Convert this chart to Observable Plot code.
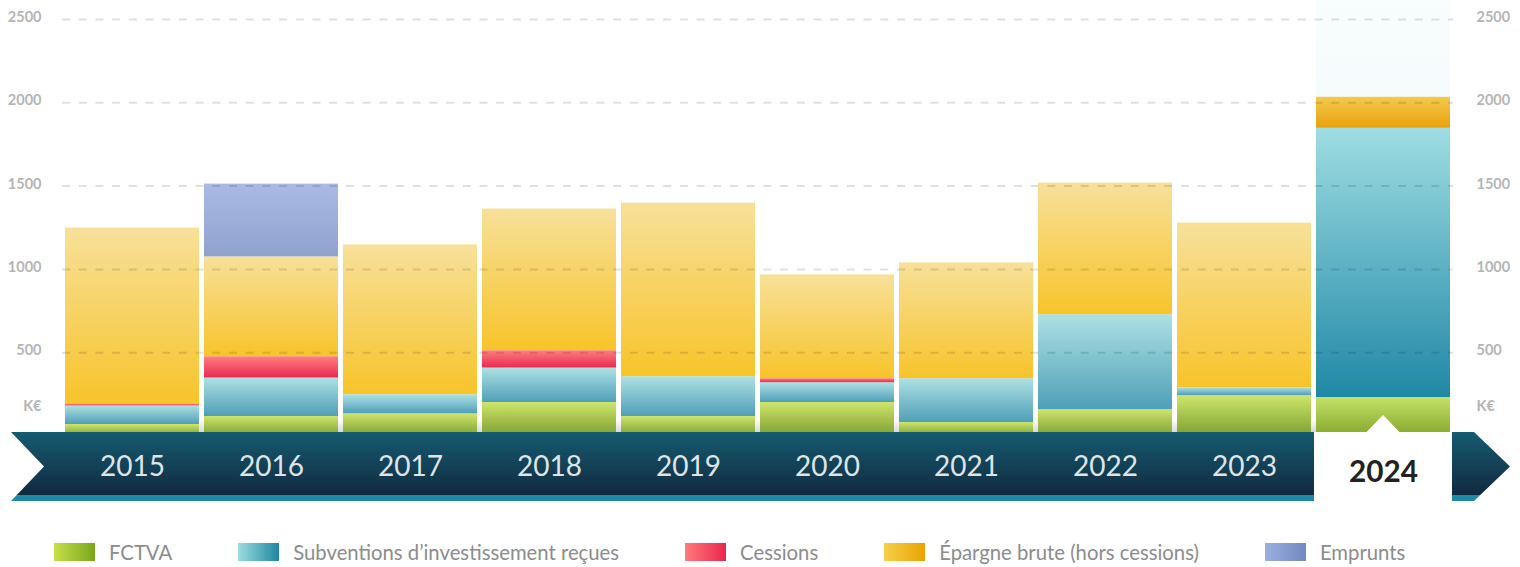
<!DOCTYPE html>
<html><head><meta charset="utf-8">
<script src="https://cdn.jsdelivr.net/npm/d3@7"></script>
<script src="https://cdn.jsdelivr.net/npm/@observablehq/plot@0.6"></script>
<style>
html,body{margin:0;padding:0;background:#fff;}
body{width:1520px;height:567px;overflow:hidden;font-family:Lato,sans-serif;position:relative;}
#chart svg{display:block;}
#legend{display:flex;align-items:center;position:absolute;top:543px;left:54px;height:18px;}
.item{display:flex;align-items:center;margin-right:66px;}
.sw{width:41px;height:18px;margin-right:14px;}
.lab{font-size:20.3px;color:#8c8c8c;line-height:18px;white-space:nowrap;}
</style></head><body>
<svg width="0" height="0" style="position:absolute" id="defs"></svg>
<div id="chart"></div>
<div id="legend"></div>
<script>
// ---- data ----
const years = ["2015","2016","2017","2018","2019","2020","2021","2022","2023","2024"];
const seriesKeys = ["fctva","subv","cess","epargne","emprunts"];
const seriesNames = ["FCTVA","Subventions d’investissement reçues","Cessions","Épargne brute (hors cessions)","Emprunts"];
const fctva       = [69, 117, 133, 201, 117, 201,  81, 158, 243,  231];
const subventions = [112, 231, 115, 207, 239, 119, 263, 570,  46, 1616];
const cessions    = [8,  128,   0, 104,   0,  24,   0,   0,   0,    0];
const epargne     = [1059, 599, 899, 850, 1042, 623, 695, 790, 989, 186];
const emprunts    = [0,  437,   0,   0,   0,   0,   0,   0,   0,    0];
const yTicks = [500, 1000, 1500, 2000, 2500];
const unitLabel = "K€";
const highlightYear = "2024";

// ---- styles ----
const grad = {
  fctva:    {n:["#cde56c","#80a030"], h:["#c4e268","#86a82c"], l:["#c6e04a","#7aa61a"]},
  subv:     {n:["#aee1e4","#4f9fb8"], h:["#9fdde2","#1f88a6"], l:["#9edce0","#1e86a2"]},
  cess:     {n:["#ff7f80","#e82a50"], h:["#ff7f80","#e82a50"], l:["#ff7b7b","#e8264f"]},
  epargne:  {n:["#f7e09a","#f7c42a"], h:["#f4c94c","#e9a10c"], l:["#f7d04a","#e8a300"]},
  emprunts: {n:["#aabae4","#8fa2ce"], h:["#aabae4","#8fa2ce"], l:["#9bb0e0","#7288c0"]}
};

const defs = d3.select("#defs").append("defs");
function vgrad(id, stops){
  const g = defs.append("linearGradient").attr("id", id).attr("x1",0).attr("y1",0).attr("x2",0).attr("y2",1);
  stops.forEach(([o,c]) => g.append("stop").attr("offset", o).attr("stop-color", c));
}
for (const k of seriesKeys) {
  vgrad("g-"+k, [[0,grad[k].n[0]],[1,grad[k].n[1]]]);
  vgrad("g-"+k+"-hl", [[0,grad[k].h[0]],[1,grad[k].h[1]]]);
}
vgrad("g-banner", [[0,"#155b70"],[0.912,"#122a3f"],[0.912,"#2089a7"],[1,"#2089a7"]]);
vgrad("g-col", [[0,"#f8fdfd"],[1,"#e8f5f7"]]);
vgrad("g-shadow", [[0,"#ffffff"],[1,"#d9d9d9"]]);

const valuesBy = {fctva, subv: subventions, cess: cessions, epargne, emprunts};
const rows = [];
years.forEach((year, i) => {
  seriesKeys.forEach(k => {
    rows.push({year, key:k, value: valuesBy[k][i], fill: `url(#g-${k}${year === highlightYear ? "-hl" : ""})`});
  });
});

const axisStyle = {fill:"#b5b5b5", fontWeight:700, fontSize:14.5};

const plot = Plot.plot({
  width: 1520, height: 505,
  marginTop: 19, marginBottom: 69.5, marginLeft: 62, marginRight: 67,
  x: {domain: years, paddingInner: 0.036, paddingOuter: 0.018, axis: null},
  y: {domain: [0, 2500], axis: null},
  color: {type: "identity"},
  style: {fontFamily: "Lato, sans-serif", background: "transparent", overflow: "visible"},
  marks: [
    // highlight column behind the 2024 bar + bottom shading between bars
    (index, scales, values, dim) => {
      const x0 = scales.x(highlightYear), bw = scales.x.bandwidth();
      const g = d3.create("svg:g");
      g.append("rect").attr("x", x0).attr("y", 0).attr("width", bw)
        .attr("height", dim.height - dim.marginBottom).attr("fill", "url(#g-col)");
      const xs = scales.x(years[0]), xe = scales.x(years[years.length-1]) + bw;
      const yb = dim.height - dim.marginBottom - 3.5;
      g.append("rect").attr("x", xs).attr("y", yb - 13).attr("width", xe - xs).attr("height", 13)
        .attr("fill", "url(#g-shadow)");
      return g.node();
    },
    Plot.barY(rows, Plot.stackY({x: "year", y: "value", fill: "fill"})),
    Plot.ruleY(yTicks, {stroke: "#000", strokeOpacity: 0.12, strokeWidth: 2, strokeDasharray: "8,8.7"}),
    Plot.axisY({anchor: "left", ticks: yTicks, tickFormat: d => String(d), tickSize: 0, tickPadding: 21, dy: -2, label: null, ...axisStyle}),
    Plot.axisY({anchor: "right", ticks: yTicks, tickFormat: d => String(d), tickSize: 0, tickPadding: 23, dy: -2, label: null, ...axisStyle}),
    Plot.text([unitLabel], {text: d => d, frameAnchor: "bottom-left", dx: -21, dy: -25.5, textAnchor: "end", ...axisStyle}),
    Plot.text([unitLabel], {text: d => d, frameAnchor: "bottom-right", dx: 23, dy: -25.5, textAnchor: "start", ...axisStyle}),
    // timeline banner
    (index, scales, values, dim) => {
      const yTop = dim.height - dim.marginBottom - 3.5, yBot = yTop + 69, yMid = (yTop + yBot) / 2;
      const left = 11, notch = 44, tip = dim.width - 10, right = tip - 36;
      const g = d3.create("svg:g");
      g.append("path")
        .attr("d", `M${left},${yTop}L${right},${yTop}L${tip},${yMid}L${right},${yBot}L${left},${yBot}L${notch},${yMid}Z`)
        .attr("fill", "url(#g-banner)");
      const x0 = scales.x(highlightYear), bw = scales.x.bandwidth(), cx = x0 + bw / 2;
      g.append("path")
        .attr("d", `M${x0-2},${yTop}L${cx-16.5},${yTop}L${cx},${yTop-17}L${cx+16.5},${yTop}L${x0+bw+2},${yTop}L${x0+bw+2},${yBot+1}L${x0-2},${yBot+1}Z`)
        .attr("fill", "#fff");
      return g.node();
    },
    Plot.text(years.filter(y => y !== highlightYear), {x: d => d, text: d => d, frameAnchor: "bottom", dy: 31, lineAnchor: "middle", fill: "#dde5e9", fontSize: 28}),
    Plot.text([highlightYear], {x: d => d, text: d => d, frameAnchor: "bottom", dy: 36, lineAnchor: "middle", fill: "#222", fontSize: 29.7, fontWeight: 700})
  ]
});
document.getElementById("chart").appendChild(plot);

// legend
const legend = d3.select("#legend");
seriesKeys.forEach((k, i) => {
  const it = legend.append("div").attr("class", "item");
  it.append("div").attr("class", "sw").style("background", `linear-gradient(to right, ${grad[k].l[0]}, ${grad[k].l[1]})`);
  it.append("div").attr("class", "lab").text(seriesNames[i]);
});
</script>
</body></html>
